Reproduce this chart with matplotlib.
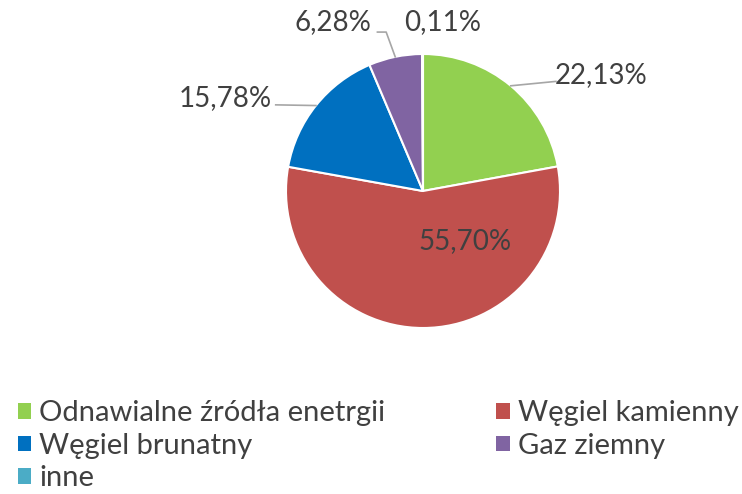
import numpy as np
import matplotlib
matplotlib.use("Agg")
import matplotlib.pyplot as plt
from matplotlib.patches import Patch

labels = ["Odnawialne źródła enetrgii", "Węgiel kamienny", "Węgiel brunatny",
          "Gaz ziemny", "inne"]
values = [22.13, 55.70, 15.78, 6.28, 0.11]
colors = ["#92D050", "#C0504D", "#0070C0", "#8064A2", "#4BACC6"]
pct_text = ["22,13%", "55,70%", "15,78%", "6,28%", "0,11%"]

# label placement (pie radius = 1)
label_pos = [(1.30, 0.85), (0.31, -0.365), (-1.445, 0.68), (-0.66, 1.23), (0.146, 1.23)]
leader = [True, False, True, True, False]

plt.rcParams['font.family'] = ['Lato', 'DejaVu Sans']
txtcol = "#404040"

fig = plt.figure(figsize=(7.42, 4.94), dpi=100)
cx, cy, r = 423, 191, 137
ax = fig.add_axes([(cx - r) / 742, 1 - (cy + r) / 494, 2 * r / 742, 2 * r / 494])

wedges, _ = ax.pie(values, colors=colors, startangle=90, counterclock=False,
                   wedgeprops=dict(edgecolor="white", linewidth=1.5))
ax.set_xlim(-1, 1)
ax.set_ylim(-1, 1)
ax.set_aspect("equal")

cum = np.cumsum([0] + values[:-1])
for i, (v, c0) in enumerate(zip(values, cum)):
    ang = np.deg2rad(90 - (c0 + v / 2) / 100 * 360)
    ex, ey = np.cos(ang), np.sin(ang)
    tx, ty = label_pos[i]
    ax.text(tx, ty, pct_text[i], ha="center", va="center", fontsize=20,
            color=txtcol, clip_on=False)
    if leader[i]:
        if tx > 0:
            pts = [(ex, ey), (tx - 0.33, ty - 0.05)]
        elif i == 3:
            pts = [(ex, ey), (ex - 0.066, ty - 0.07), (ex - 0.13, ty - 0.07)]
        else:
            pts = [(ex, ey), (tx + 0.37, ey + 0.005)]
        xs, ys = zip(*pts)
        ax.plot(xs, ys, color="#A6A6A6", lw=1.2, clip_on=False)

# row-major order like the original legend
order = [0, 2, 4, 1, 3]
handles = [Patch(facecolor=colors[k], edgecolor="none") for k in order]
fig.legend(handles, [labels[k] for k in order], loc="upper left",
           bbox_to_anchor=(0.008, 0.213), ncol=2, frameon=False, fontsize=21,
           labelcolor=txtcol, handlelength=0.45, handleheight=0.45,
           handletextpad=0.3, columnspacing=3.8, labelspacing=0.22,
           borderaxespad=0)

fig.savefig("out.png", dpi=100)
